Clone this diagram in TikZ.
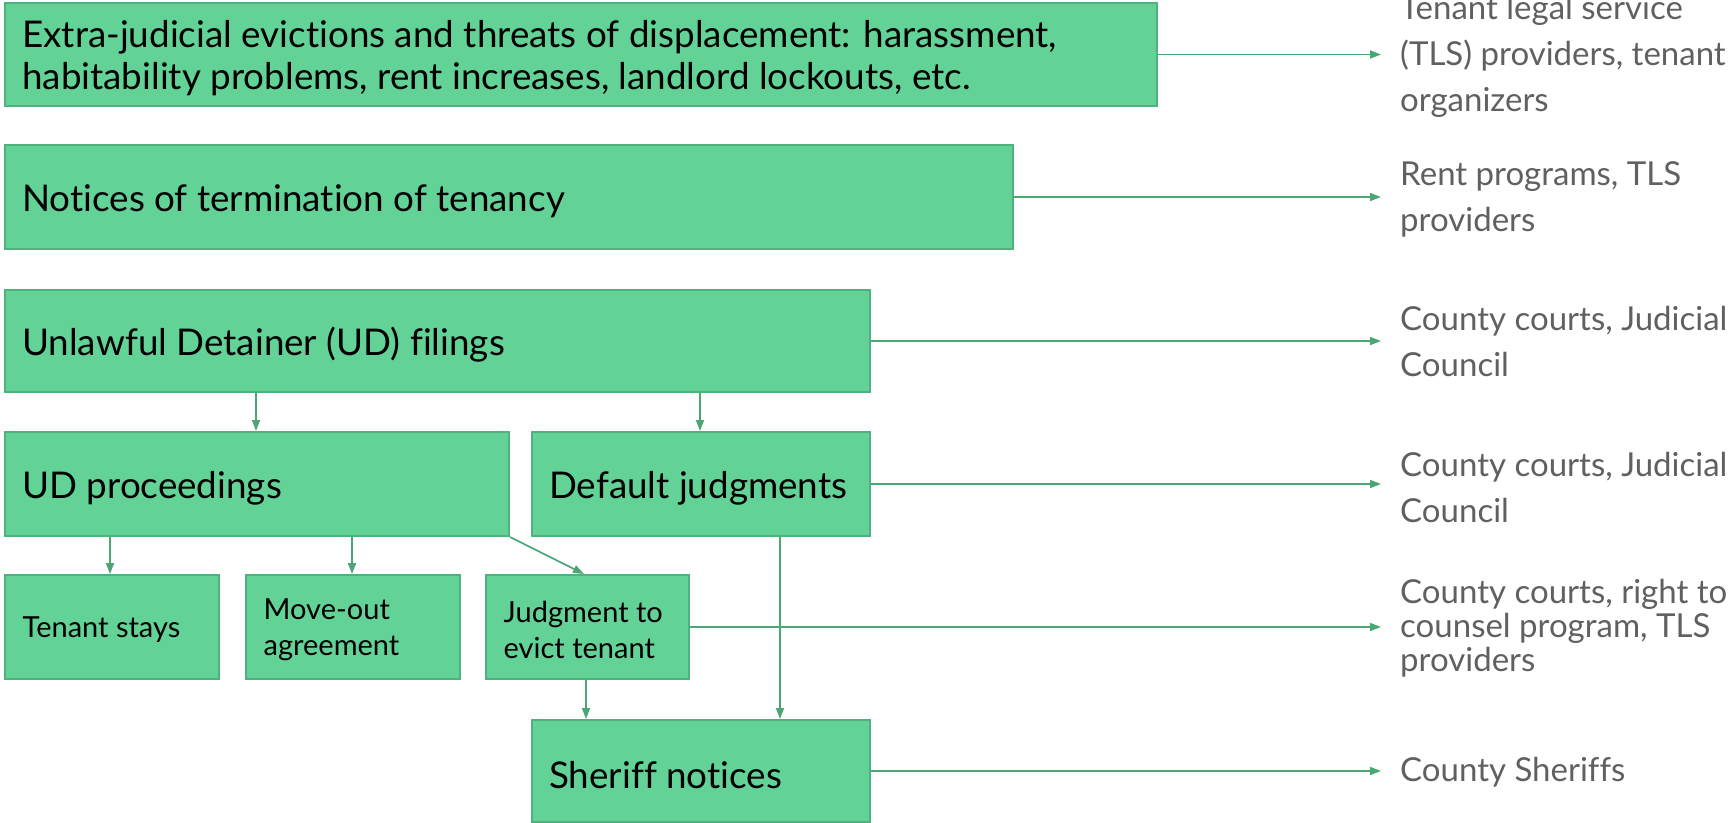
\documentclass[tikz,border=0pt]{standalone}
\usepackage{fontspec}
\setmainfont[Ligatures=NoCommon]{Lato}
\usetikzlibrary{arrows.meta,calc}
\definecolor{boxfill}{HTML}{63D297}
\definecolor{boxline}{HTML}{4FB27E}
\definecolor{arrowcol}{HTML}{4AA674}
\definecolor{labelcol}{HTML}{606060}
\newcommand{\bigtext}{\fontsize{36.8}{42}\selectfont}
\newcommand{\smalltext}{\fontsize{29}{36}\selectfont}
\newcommand{\labeltext}{\fontsize{33}{46}\selectfont}
\tikzset{
  stage/.style={draw=boxline, fill=boxfill, line width=2, anchor=north west, inner sep=0},
  bigcaption/.style={anchor=west, align=left, inner sep=0, text=black, font=\bigtext,
    xshift=18, yshift=-4},
  smallcaption/.style={anchor=west, align=left, inner sep=0, text=black, font=\smalltext,
    xshift=18.5, yshift=-2.5},
  target/.style={anchor=west, align=left, inner sep=0, text=labelcol, font=\labeltext},
  arr/.style={draw=arrowcol, line width=1.6, -{Triangle[length=11,width=8]}},
}
\begin{document}
\begin{tikzpicture}[x=1pt,y=-1pt]
\useasboundingbox (0,0) rectangle (1729,822);
\clip (0,0) rectangle (1729,822);

% stages of the eviction process
\node[stage, minimum width=1152, minimum height=103] (b1) at (4,2) {};
\node[stage, minimum width=1008, minimum height=104] (b2) at (4,144) {};
\node[stage, minimum width=865, minimum height=102] (b3) at (4,289) {};
\node[stage, minimum width=504, minimum height=104] (b4) at (4,431) {};
\node[stage, minimum width=338, minimum height=104] (b5) at (531,431) {};
\node[stage, minimum width=214, minimum height=104] (b6) at (4,574) {};
\node[stage, minimum width=214, minimum height=104] (b7) at (245,574) {};
\node[stage, minimum width=203, minimum height=104] (b8) at (485,574) {};
\node[stage, minimum width=338, minimum height=102] (b9) at (531,719) {};

\node[bigcaption] (t1) at (b1.west)
  {Extra-judicial evictions and threats of displacement: harassment,\\habitability problems, rent increases, landlord lockouts, etc.};
\node[bigcaption] (t2) at (b2.west) {Notices of termination of tenancy};
\node[bigcaption] (t3) at (b3.west) {Unlawful Detainer (UD) filings};
\node[bigcaption] (t4) at (b4.west) {UD proceedings};
\node[bigcaption] (t5) at (b5.west) {Default judgments};
\node[smallcaption] (t6) at (b6.west) {Tenant stays};
\node[smallcaption] (t7) at (b7.west) {Move-out\\agreement};
\node[smallcaption] (t8) at (b8.west) {Judgment to\\evict tenant};
\node[bigcaption] (t9) at (b9.west) {Sheriff notices};

% data holders
\node[target] (l1) at (1400,56) {Tenant legal service\\(TLS) providers, tenant\\organizers};
\node[target] (l2) at (1400,199) {Rent programs, TLS\\providers};
\node[target] (l3) at (1400,341) {County courts, Judicial\\Council};
\node[target] (l4) at (1400,487) {County courts, Judicial\\Council};
\node[target, font=\fontsize{33}{34}\selectfont] (l5) at (1400,628) {County courts, right to\\counsel program, TLS\\providers};
\node[target] (l6) at (1400,772) {County Sheriffs};

% connectors to data holders
\foreach \b/\l in {b1/l1, b2/l2, b3/l3, b5/l4, b8/l5, b9/l6}
  \draw[arr] (\b.east) -- ([xshift=-19]\l.west |- \b.east);

% flow between stages
\draw[arr] ($(b3.south west)+(252,0)$) -- ($(b4.north west)+(252,0)$);
\draw[arr] ($(b3.south west)+(696,0)$) -- ($(b5.north west)+(169,0)$);
\draw[arr] ($(b4.south west)+(106,0)$) -- ($(b6.north west)+(106,0)$);
\draw[arr] ($(b4.south west)+(348,0)$) -- ($(b7.north west)+(107,0)$);
\draw[arr] (b4.south east) -- ($(b8.north west)+(99,0)$);
\draw[arr] ($(b5.south west)+(249,0)$) -- ($(b9.north west)+(249,0)$);
\draw[arr] ($(b8.south west)+(101,0)$) -- ($(b9.north west)+(55,0)$);
\end{tikzpicture}
\end{document}
